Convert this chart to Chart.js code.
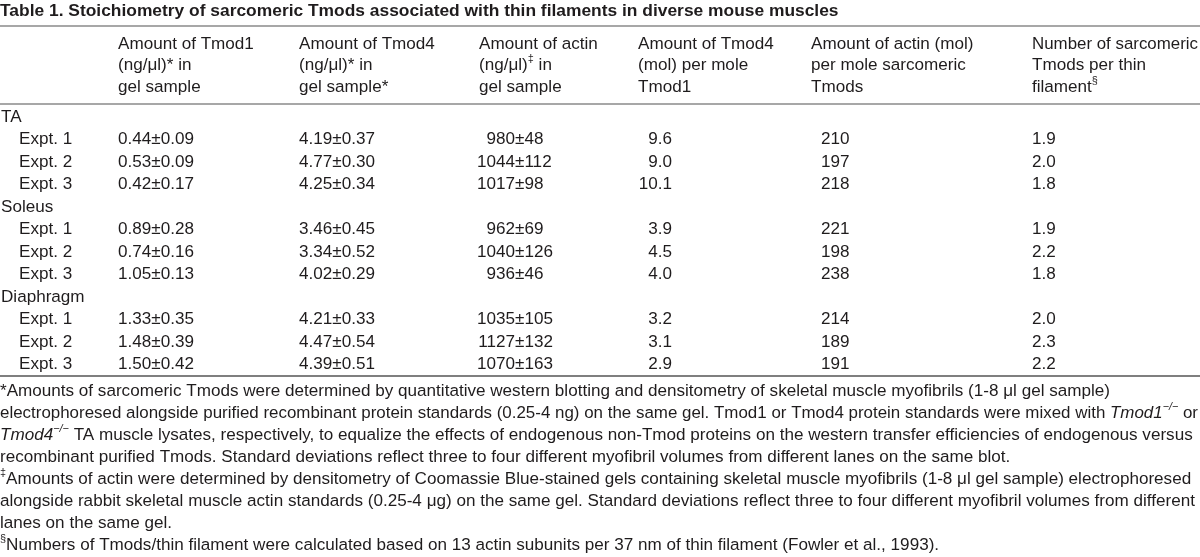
<!DOCTYPE html>
<html>
<head>
<meta charset="utf-8">
<style>
  html, body { margin: 0; padding: 0; background: #fff; }
  canvas { display: block; }
</style>
</head>
<body>
<canvas id="tabla" width="1200" height="557"></canvas>
<script src="https://cdn.jsdelivr.net/npm/chart.js@4"></script>
<script>
/* DATOS DE LA TABLA */
const titulo = 'Table 1. Stoichiometry of sarcomeric Tmods associated with thin filaments in diverse mouse muscles';
const encabezados = [
  ['Amount of Tmod1', '(ng/μl)* in', 'gel sample'],
  ['Amount of Tmod4', '(ng/μl)* in', 'gel sample*'],
  ['Amount of actin', '(ng/μl)<sup>‡</sup> in', 'gel sample'],
  ['Amount of Tmod4', '(mol) per mole', 'Tmod1'],
  ['Amount of actin (mol)', 'per mole sarcomeric', 'Tmods'],
  ['Number of sarcomeric', 'Tmods per thin', 'filament<sup>§</sup>']
];
const musculos = ['TA', 'Soleus', 'Diaphragm'];
const expts = ['Expt. 1', 'Expt. 2', 'Expt. 3'];
const tmod1 = ['0.44±0.09', '0.53±0.09', '0.42±0.17', '0.89±0.28', '0.74±0.16', '1.05±0.13', '1.33±0.35', '1.48±0.39', '1.50±0.42'];
const tmod4 = ['4.19±0.37', '4.77±0.30', '4.25±0.34', '3.46±0.45', '3.34±0.52', '4.02±0.29', '4.21±0.33', '4.47±0.54', '4.39±0.51'];
const actina = ['980±48', '1044±112', '1017±98', '962±69', '1040±126', '936±46', '1035±105', '1127±132', '1070±163'];
const tmod4PorTmod1 = ['9.6', '9.0', '10.1', '3.9', '4.5', '4.0', '3.2', '3.1', '2.9'];
const actinaPorTmods = ['210', '197', '218', '221', '198', '238', '214', '189', '191'];
const tmodsPorFilamento = ['1.9', '2.0', '1.8', '1.9', '2.2', '1.8', '2.0', '2.3', '2.2'];
const notas = [
  '*Amounts of sarcomeric Tmods were determined by quantitative western blotting and densitometry of skeletal muscle myofibrils (1-8 μl gel sample)',
  'electrophoresed alongside purified recombinant protein standards (0.25-4 ng) on the same gel. Tmod1 or Tmod4 protein standards were mixed with <i>Tmod1</i><sup><i>−/−</i></sup> or',
  '<i>Tmod4</i><sup><i>−/−</i></sup> TA muscle lysates, respectively, to equalize the effects of endogenous non-Tmod proteins on the western transfer efficiencies of endogenous versus',
  'recombinant purified Tmods. Standard deviations reflect three to four different myofibril volumes from different lanes on the same blot.',
  '<sup>‡</sup>Amounts of actin were determined by densitometry of Coomassie Blue-stained gels containing skeletal muscle myofibrils (1-8 μl gel sample) electrophoresed',
  'alongside rabbit skeletal muscle actin standards (0.25-4 μg) on the same gel. Standard deviations reflect three to four different myofibril volumes from different',
  'lanes on the same gel.',
  '<sup>§</sup>Numbers of Tmods/thin filament were calculated based on 13 actin subunits per 37 nm of thin filament (Fowler et al., 1993).'
];

/* DISPOSICION (posiciones en unidades de las escalas) */
const FUENTE = '"Liberation Sans", Arial, sans-serif';
const TAM = 17.1, TAM_TITULO = 17.4, ANCHO_MAX = 1198;
const colEncabezado = [118, 299, 479, 638, 811, 1032];
const colDatos = { tmod1: 118, tmod4: 299, actinaPm: 515, razonDer: 672, actinaMol: 821, filamento: 1032 };
const yTitulo = 11, yRegla1 = 26, yEncabezado = 44, pasoEncabezado = 21.5, yRegla2 = 104;
const yCuerpo = 117, pasoCuerpo = 22.5, yRegla3 = 376, yNotas = 391, pasoNotas = 22;

let puntosTexto = [];
// titulo
puntosTexto.push({ x: 0, y: yTitulo, texto: titulo, bold: true });
// encabezados
encabezados.forEach((lineas, c) => {
  lineas.forEach((l, i) => puntosTexto.push({ x: colEncabezado[c], y: yEncabezado + i * pasoEncabezado, texto: l }));
});
// cuerpo
let fila = 0;
musculos.forEach((m, g) => {
  puntosTexto.push({ x: 1, y: yCuerpo + fila * pasoCuerpo, texto: m });
  fila++;
  expts.forEach((e, k) => {
    const j = g * 3 + k;
    const y = yCuerpo + fila * pasoCuerpo;
    puntosTexto.push({ x: 19, y: y, texto: e });
    puntosTexto.push({ x: colDatos.tmod1, y: y, texto: tmod1[j] });
    puntosTexto.push({ x: colDatos.tmod4, y: y, texto: tmod4[j] });
    puntosTexto.push({ x: colDatos.actinaPm, y: y, texto: actina[j], alinear: 'pm' });
    puntosTexto.push({ x: colDatos.razonDer, y: y, texto: tmod4PorTmod1[j], alinear: 'right' });
    puntosTexto.push({ x: colDatos.actinaMol, y: y, texto: actinaPorTmods[j] });
    puntosTexto.push({ x: colDatos.filamento, y: y, texto: tmodsPorFilamento[j] });
    fila++;
  });
});
// notas al pie
notas.forEach((n, i) => puntosTexto.push({ x: 0, y: yNotas + i * pasoNotas, texto: n }));

let regla = (y, color, ancho) => ({
  data: [{ x: 0, y: y }, { x: 1200, y: y }],
  showLine: true, pointRadius: 0, borderColor: color, borderWidth: ancho
});

/* TEXTO CON <i> Y <sup> */
let partes = (s) => {
  let out = [], it = false, sup = false;
  s.split(/(<\/?i>|<\/?sup>)/).forEach(t => {
    if (t === '<i>') it = true;
    else if (t === '</i>') it = false;
    else if (t === '<sup>') sup = true;
    else if (t === '</sup>') sup = false;
    else if (t) out.push({ t: t, it: it, sup: sup });
  });
  return out;
};
let fuente = (p, bold) => (p.it ? 'italic ' : '') + (bold ? 'bold ' : '') + (p.sup ? (TAM * 0.64).toFixed(1) : (bold ? TAM_TITULO : TAM)) + 'px ' + FUENTE;
let dibujar = (ctx, s, x, y, alinear, bold) => {
  const ps = partes(s);
  let ancho = 0;
  ps.forEach(p => { ctx.font = fuente(p, bold); ancho += ctx.measureText(p.t).width; });
  if (alinear === 'right') x -= ancho;
  ctx.save();
  // si la linea no cabe se comprime un poco
  if (x + ancho > ANCHO_MAX) {
    ctx.translate(x, 0);
    ctx.scale((ANCHO_MAX - x) / ancho, 1);
    ctx.translate(-x, 0);
  }
  ps.forEach(p => {
    ctx.font = fuente(p, bold);
    ctx.fillText(p.t, x, p.sup ? y - TAM * 0.38 : y);
    x += ctx.measureText(p.t).width;
  });
  ctx.restore();
};

const textoPlugin = {
  id: 'texto',
  afterDatasetsDraw(chart) {
    const ctx = chart.ctx;
    const meta = chart.getDatasetMeta(0);
    ctx.save();
    ctx.fillStyle = '#1f1c1d';
    ctx.textBaseline = 'middle';
    meta.data.forEach((el, i) => {
      const p = puntosTexto[i];
      if (p.alinear === 'pm') {
        const [a, b] = p.texto.split('±');
        dibujar(ctx, a, el.x, el.y, 'right');
        dibujar(ctx, '±' + b, el.x, el.y, 'left');
      } else {
        dibujar(ctx, p.texto, el.x, el.y, p.alinear || 'left', p.bold);
      }
    });
    ctx.restore();
  }
};

const ctx = document.getElementById('tabla');
new Chart(ctx, {
  type: 'scatter',
  data: {
    datasets: [
      { data: puntosTexto.map(p => ({ x: p.x, y: p.y })), pointRadius: 0 },
      regla(yRegla1, '#8a8a8a', 1.5),
      regla(yRegla2, '#8a8a8a', 1.5),
      regla(yRegla3, '#555', 1.5)
    ]
  },
  options: {
    responsive: false,
    animation: false,
    events: [],
    layout: { padding: 0 },
    plugins: { legend: { display: false }, tooltip: { enabled: false } },
    scales: {
      x: { type: 'linear', min: 0, max: 1200, display: false },
      y: { type: 'linear', min: 0, max: 557, reverse: true, display: false }
    }
  },
  plugins: [textoPlugin]
});
</script>
</body>
</html>
